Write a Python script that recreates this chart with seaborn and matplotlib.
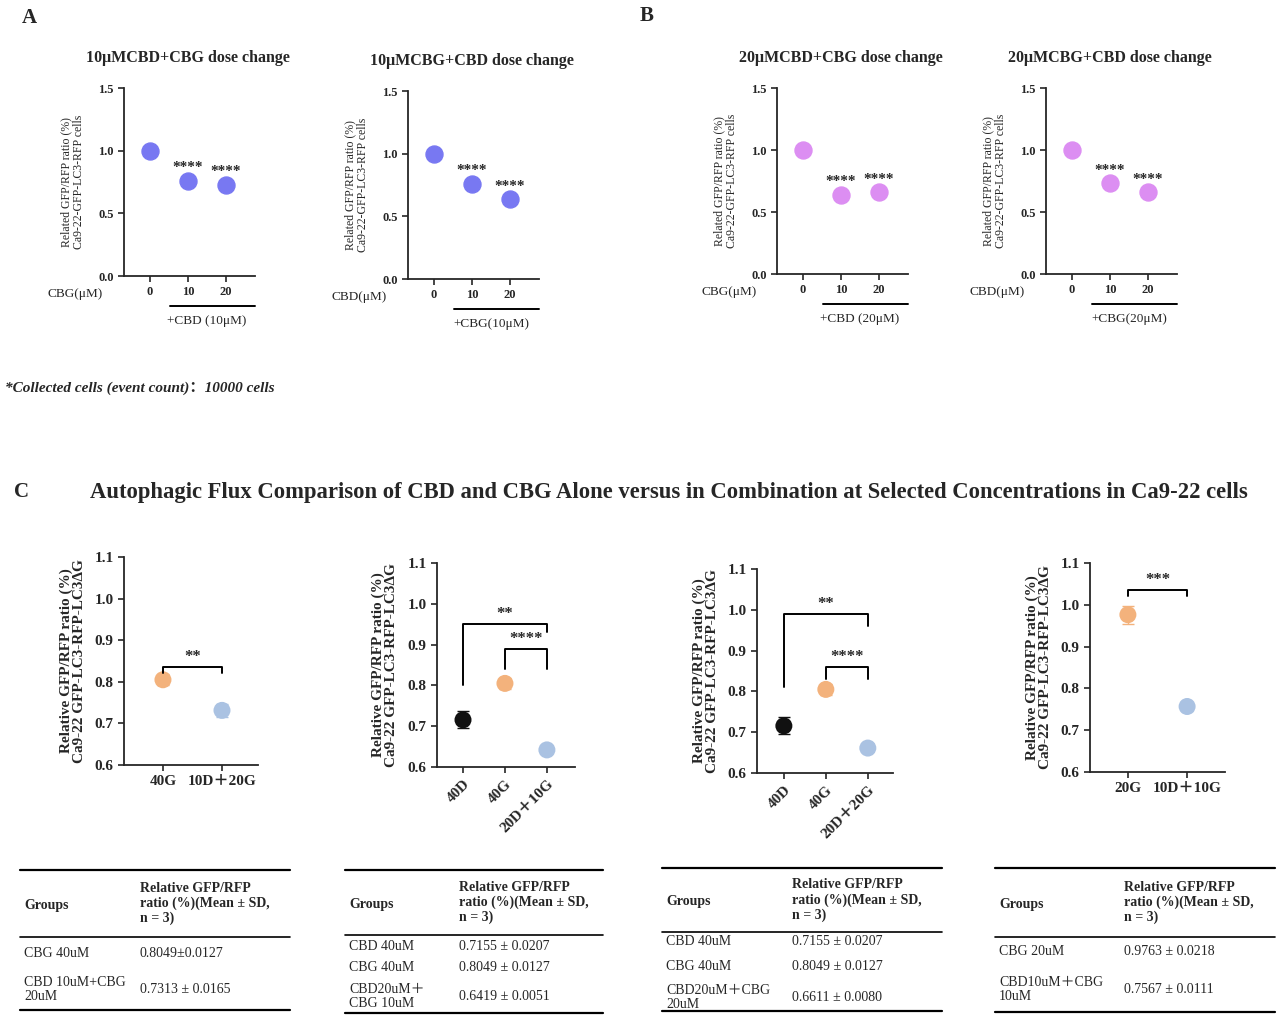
import matplotlib
matplotlib.use("Agg")
import matplotlib.pyplot as plt
import seaborn as sns
import pandas as pd
from matplotlib.lines import Line2D

sns.set_theme(style="ticks")
plt.rcParams['font.family'] = ['Liberation Serif', 'Noto Sans CJK SC', 'DejaVu Serif']

W, H = 1280, 1021
fig = plt.figure(figsize=(12.8, 10.21), dpi=100)

# ---------------- data ----------------
a1_cats = ["0", "10", "20"]; a1_vals = [1.0, 0.76, 0.73]
a2_cats = ["0", "10", "20"]; a2_vals = [1.0, 0.76, 0.64]
b1_cats = ["0", "10", "20"]; b1_vals = [1.0, 0.64, 0.66]
b2_cats = ["0", "10", "20"]; b2_vals = [1.0, 0.73, 0.66]

c1_cats = ["40G", "10D＋20G"]; c1_vals = [0.8049, 0.7313]; c1_sd = [0.0127, 0.0165]
c2_cats = ["40D", "40G", "20D＋10G"]; c2_vals = [0.7155, 0.8049, 0.6419]; c2_sd = [0.0207, 0.0127, 0.0051]
c3_cats = ["40D", "40G", "20D＋20G"]; c3_vals = [0.7155, 0.8049, 0.6611]; c3_sd = [0.0207, 0.0127, 0.0080]
c4_cats = ["20G", "10D＋10G"]; c4_vals = [0.9763, 0.7567]; c4_sd = [0.0218, 0.0111]

BLUE = "#7878f2"; VIOLET = "#dc8ef2"; ORANGE = "#f3b27c"; LBLUE = "#aac2e2"; BLACK = "#111111"

def px_axes(l, t, r, b):
    return fig.add_axes([l / W, 1 - b / H, (r - l) / W, (b - t) / H])

def ftext(x, y, s, **kw):
    kw.setdefault("va", "center")
    fig.text(x / W, 1 - y / H, s, **kw)

def fline(x0, x1, y0, y1, lw=1.2):
    fig.add_artist(Line2D([x0 / W, x1 / W], [1 - y0 / H, 1 - y1 / H], color="black", lw=lw))

def style(ax, xlim, ylim, yticks, fs, bold):
    ax.set_xlim(*xlim); ax.set_ylim(*ylim); ax.set_yticks(yticks)
    sns.despine(ax=ax)
    ax.set_xlabel(""); ax.set_ylabel("")
    for s in ax.spines.values():
        s.set_linewidth(1.3)
    ax.tick_params(width=1.2, length=4, labelsize=fs)
    for lab in ax.get_xticklabels() + ax.get_yticklabels():
        lab.set_fontweight("bold" if bold else "normal")

# ---------------- panel A/B ----------------
def dose(l, t, r, b, cats, vals, color, title, ttl_y, ylab, xname, under):
    ax = px_axes(l, t, r, b)
    df = pd.DataFrame({"c": cats, "v": vals})
    sns.scatterplot(data=df, x="c", y="v", ax=ax, color=color, s=150, edgecolor=color, legend=False)
    style(ax, (-0.68, 2.76), (0, 1.5), [0, 0.5, 1.0, 1.5], 9, True)
    ax.yaxis.set_major_formatter(matplotlib.ticker.FormatStrFormatter("%.1f"))
    for i in (1, 2):
        ax.text(i, vals[i] + 0.05, "****", ha="center", va="bottom", fontsize=11, fontweight="bold")
    ax.set_ylabel(ylab, fontsize=8.5, linespacing=1.0)
    ax.yaxis.set_label_coords(-0.3, 0.5)
    unit = (r - l) / 3.44
    tick1 = l + unit * 1.68
    ftext(tick1, ttl_y, title, ha="center", fontsize=11.5, fontweight="bold")
    ftext(l - 76, b + 18, xname, ha="left", fontsize=9.5)
    fline(tick1 - 18, r, b + 30, b + 30, lw=1.4)
    ftext(tick1 + unit / 2, b + 45, under, ha="center", fontsize=9.5)
    return ax

ylabA = "Related GFP/RFP ratio (%)\nCa9-22-GFP-LC3-RFP cells"
dose(124, 88, 255, 276, a1_cats, a1_vals, BLUE, "10μMCBD+CBG dose change", 58, ylabA, "CBG(μM)", "+CBD (10μM)")
dose(408, 91, 539, 279, a2_cats, a2_vals, BLUE, "10μMCBG+CBD dose change", 61, ylabA, "CBD(μM)", "+CBG(10μM)")
dose(777, 88, 908, 274, b1_cats, b1_vals, VIOLET, "20μMCBD+CBG dose change", 58, ylabA, "CBG(μM)", "+CBD (20μM)")
dose(1046, 88, 1177, 274, b2_cats, b2_vals, VIOLET, "20μMCBG+CBD dose change", 58, ylabA, "CBD(μM)", "+CBG(20μM)")

ftext(22, 18, "A", fontsize=15, fontweight="bold")
ftext(640, 16, "B", fontsize=15, fontweight="bold")
ftext(5, 388, "*Collected cells (event count)：10000 cells", fontsize=11, fontweight="bold", style="italic")
ftext(14, 492, "C", fontsize=15, fontweight="bold")
ftext(90, 492, "Autophagic Flux Comparison of CBD and CBG Alone versus in Combination at Selected Concentrations in Ca9-22 cells",
      fontsize=16.3, fontweight="bold")

# ---------------- panel C ----------------
ylabC = "Relative GFP/RFP ratio (%)\nCa9-22 GFP-LC3-RFP-LC3ΔG"

def flux(l, t, r, b, cats, vals, sds, colors, xlim, rot, brackets):
    ax = px_axes(l, t, r, b)
    df = pd.DataFrame({"c": cats, "v": vals})
    for i, c in enumerate(cats):
        ax.errorbar(i, vals[i], yerr=sds[i], color=colors[i], capsize=4, lw=1, zorder=1)
    sns.scatterplot(data=df, x="c", y="v", hue="c", palette=colors, ax=ax, s=150, edgecolor="none", legend=False, zorder=2)
    style(ax, xlim, (0.6, 1.1), [0.6, 0.7, 0.8, 0.9, 1.0, 1.1], 11, True)
    ax.yaxis.set_major_formatter(matplotlib.ticker.FormatStrFormatter("%.1f"))
    ax.set_ylabel(ylabC, fontsize=11, fontweight="bold", linespacing=1.0)
    ax.yaxis.set_label_coords(-0.28, 0.5)
    if rot:
        for lab in ax.get_xticklabels():
            lab.set_rotation(45); lab.set_ha("right"); lab.set_rotation_mode("anchor")
    for (i, j, y, yl, yr, txt) in brackets:
        ax.plot([i, i, j, j], [yl, y, y, yr], color="black", lw=1.4, clip_on=False)
        ax.text((i + j) / 2, y + 0.005, txt, ha="center", va="bottom", fontsize=12, fontweight="bold")
    return ax

flux(124, 557, 258, 765, c1_cats, c1_vals, c1_sd, [ORANGE, LBLUE], (-0.66, 1.61), False,
     [(0, 1, 0.835, 0.82, 0.82, "**")])
flux(437, 563, 575, 767, c2_cats, c2_vals, c2_sd, [BLACK, ORANGE, LBLUE], (-0.62, 2.67), True,
     [(0, 2, 0.95, 0.8, 0.93, "**"), (1, 2, 0.89, 0.84, 0.84, "****")])
flux(757, 569, 893, 773, c3_cats, c3_vals, c3_sd, [BLACK, ORANGE, LBLUE], (-0.64, 2.6), True,
     [(0, 2, 0.99, 0.81, 0.96, "**"), (1, 2, 0.86, 0.83, 0.83, "****")])
flux(1090, 563, 1225, 772, c4_cats, c4_vals, c4_sd, [ORANGE, LBLUE], (-0.64, 1.64), False,
     [(0, 1, 1.035, 1.02, 1.02, "***")])

# ---------------- tables ----------------
hdr = "Relative GFP/RFP\nratio (%)(Mean ± SD,\nn = 3)"
t1_groups = ["CBG 40uM", "CBD 10uM+CBG\n20uM"]; t1_vals = ["0.8049±0.0127", "0.7313 ± 0.0165"]
t2_groups = ["CBD 40uM", "CBG 40uM", "CBD20uM＋\nCBG 10uM"]; t2_vals = ["0.7155 ± 0.0207", "0.8049 ± 0.0127", "0.6419 ± 0.0051"]
t3_groups = ["CBD 40uM", "CBG 40uM", "CBD20uM＋CBG\n20uM"]; t3_vals = ["0.7155 ± 0.0207", "0.8049 ± 0.0127", "0.6611 ± 0.0080"]
t4_groups = ["CBG 20uM", "CBD10uM＋CBG\n10uM"]; t4_vals = ["0.9763 ± 0.0218", "0.7567 ± 0.0111"]

def table(x0, x1, ytop, ymid, ybot, xc, groups, vals, rows_y):
    fline(x0, x1, ytop, ytop, 1.6); fline(x0, x1, ymid, ymid, 1.2); fline(x0, x1, ybot, ybot, 1.6)
    ftext(x0 + 4, (ytop + ymid) / 2 + 2, "Groups", fontsize=10, fontweight="bold")
    ftext(xc, (ytop + ymid) / 2, hdr, fontsize=10, fontweight="bold", linespacing=1.15)
    for g, v, y in zip(groups, vals, rows_y):
        ftext(x0 + 4, y, g, fontsize=10, linespacing=1.1)
        ftext(xc, y, v, fontsize=10)

table(20, 290, 870, 937, 1010, 140, t1_groups, t1_vals, [953, 989])
table(345, 603, 870, 935, 1013, 459, t2_groups, t2_vals, [946, 967, 996])
table(662, 942, 868, 932, 1011, 792, t3_groups, t3_vals, [941, 966, 997])
table(995, 1275, 868, 937, 1012, 1124, t4_groups, t4_vals, [951, 989])

fig.savefig("out.png", dpi=100, facecolor="white")
